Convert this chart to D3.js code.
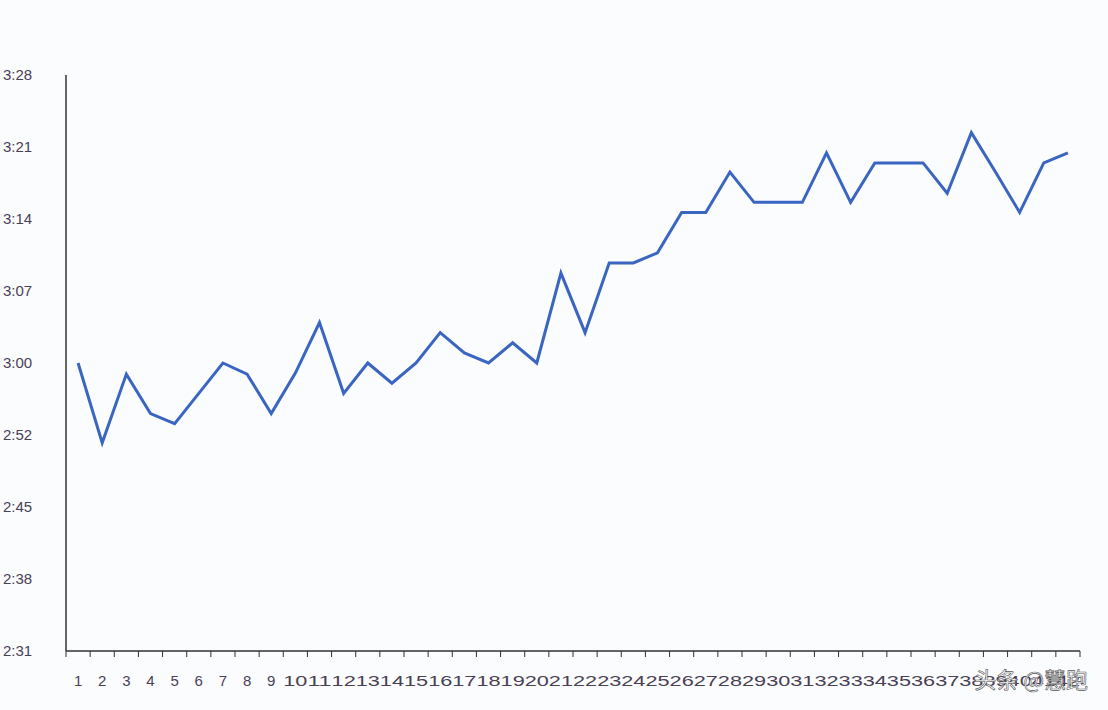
<!DOCTYPE html>
<html><head><meta charset="utf-8">
<script src="https://cdn.jsdelivr.net/npm/d3@7"></script>
<style>body{margin:0;background:#fbfcfe}svg{display:block;font-family:"Liberation Sans",Arial,sans-serif}</style>
</head><body><svg></svg>
<script>
const laps = d3.range(1, 43);
// seconds per lap
const times = [179.5,171.6,178.4,174.5,173.5,176.5,179.5,178.4,174.5,178.5,
  183.5,176.5,179.5,177.5,179.5,182.5,180.5,179.5,181.5,179.5,
  188.4,182.5,189.4,189.4,190.4,194.4,194.4,198.4,195.4,195.4,
  195.4,200.3,195.4,199.3,199.3,199.3,196.3,202.3,198.4,194.4,199.3,200.3];
const tickVals = d3.range(9).map(i => 151 + i * 57 / 8);
const tickLabels = ["2:31","2:38","2:45","2:52","3:00","3:07","3:14","3:21","3:28"];

let width = 1108, height = 710;
let svg = d3.select("svg").attr("width", width).attr("height", height);
svg.append("rect").attr("width", width).attr("height", height).attr("fill", "#fbfcfe");

let xScale = d3.scaleBand().domain(laps).range([66, 1080]);
let yScale = d3.scaleLinear().domain([151, 208]).range([651, 75]);

// y axis
svg.append("line").attr("x1", 66).attr("x2", 66).attr("y1", 75).attr("y2", 651)
  .attr("stroke", "#333").attr("stroke-width", 1.5);
svg.selectAll(".ylab").data(tickVals).enter().append("text")
  .attr("x", 3).attr("y", d => yScale(d) + 5)
  .attr("font-size", 15).attr("fill", "#4a3f55")
  .text((d, i) => tickLabels[i]);

// x axis
svg.append("line").attr("x1", 66).attr("x2", 1080).attr("y1", 651).attr("y2", 651)
  .attr("stroke", "#333").attr("stroke-width", 1.5);
svg.selectAll(".xt").data(laps.concat([43])).enter().append("line")
  .attr("x1", d => d === 43 ? 1080 : xScale(d)).attr("x2", d => d === 43 ? 1080 : xScale(d))
  .attr("y1", 651).attr("y2", 657).attr("stroke", "#333");
svg.selectAll(".xlab").data(laps).enter().append("text")
  .attr("x", d => xScale(d) + xScale.bandwidth() / 2).attr("y", 686)
  .attr("text-anchor", "middle").attr("font-size", 15).attr("fill", "#4a3f55")
  .attr("textLength", d => d > 9 ? xScale.bandwidth() : null)
  .attr("lengthAdjust", "spacingAndGlyphs")
  .text(d => d);

let line = d3.line()
  .x((d, i) => xScale(laps[i]) + xScale.bandwidth() / 2)
  .y(d => yScale(d));
svg.append("path").datum(times).attr("d", line)
  .attr("fill", "none").attr("stroke", "#3a66c2").attr("stroke-width", 3)
  .attr("stroke-linejoin", "miter");

svg.append("text").attr("x", 1088).attr("y", 688).attr("text-anchor", "end")
  .attr("font-size", 22).attr("fill", "#fff").attr("stroke", "#555").attr("stroke-width", 0.6)
  .attr("font-family", "Noto Sans CJK SC").text("头条 @慧跑");
</script></body></html>
